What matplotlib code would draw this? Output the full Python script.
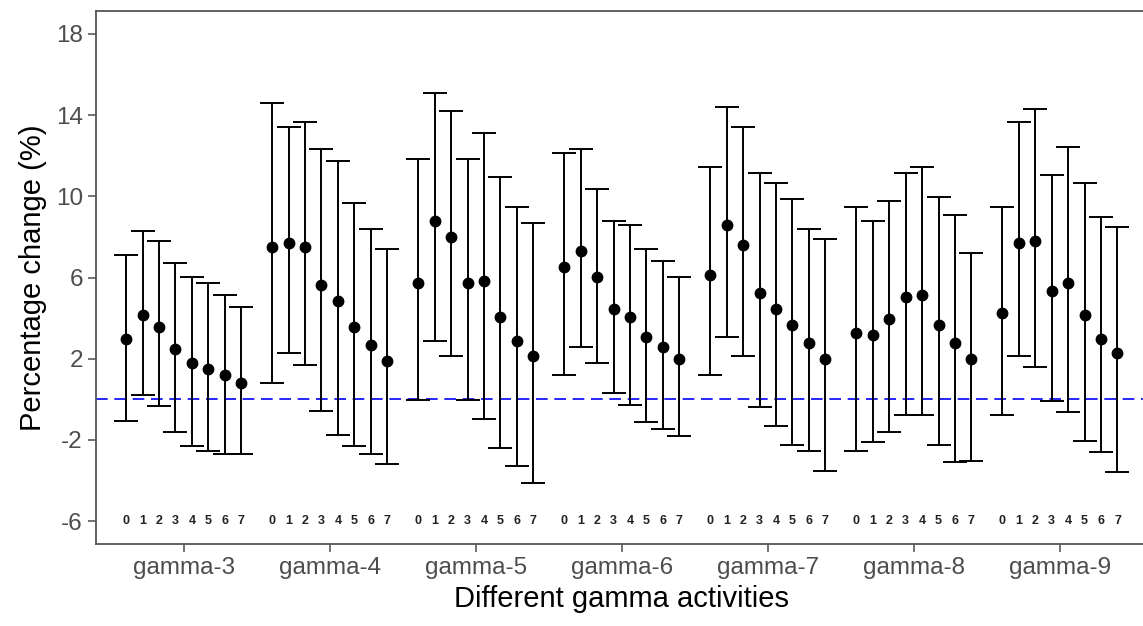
import matplotlib

matplotlib.use("Agg")
import matplotlib.pyplot as plt
import numpy as np

plt.rcParams["font.family"] = ["Liberation Sans", "DejaVu Sans"]
plt.rcParams["axes.unicode_minus"] = False

groups = ["gamma-3", "gamma-4", "gamma-5", "gamma-6", "gamma-7", "gamma-8", "gamma-9"]
lags = [0, 1, 2, 3, 4, 5, 6, 7]

# point estimates per group (lag 0..7)
estimate = [
    [2.98, 4.16, 3.56, 2.49, 1.79, 1.49, 1.21, 0.81],
    [7.49, 7.70, 7.49, 5.63, 4.82, 3.56, 2.68, 1.89],
    [5.74, 8.77, 7.98, 5.74, 5.84, 4.05, 2.88, 2.11],
    [6.53, 7.30, 6.04, 4.46, 4.05, 3.07, 2.60, 1.98],
    [6.12, 8.58, 7.60, 5.25, 4.46, 3.67, 2.79, 2.00],
    [3.28, 3.18, 3.96, 5.05, 5.14, 3.67, 2.79, 2.00],
    [4.26, 7.70, 7.79, 5.35, 5.74, 4.16, 2.98, 2.28],
]
lower = [
    [-1.05, 0.23, -0.35, -1.63, -2.32, -2.53, -2.72, -2.72],
    [0.82, 2.30, 1.70, -0.56, -1.74, -2.32, -2.72, -3.21],
    [-0.05, 2.88, 2.11, -0.05, -0.95, -2.42, -3.30, -4.11],
    [1.21, 2.60, 1.81, 0.33, -0.26, -1.14, -1.44, -1.82],
    [1.21, 3.09, 2.11, -0.37, -1.33, -2.23, -2.53, -3.51],
    [-2.53, -2.12, -1.63, -0.75, -0.75, -2.23, -3.11, -3.02],
    [-0.75, 2.11, 1.61, -0.07, -0.65, -2.04, -2.61, -3.60],
]
upper = [
    [7.10, 8.28, 7.79, 6.72, 6.04, 5.74, 5.14, 4.56],
    [14.60, 13.42, 13.68, 12.35, 11.72, 9.67, 8.40, 7.42],
    [11.84, 15.09, 14.19, 11.84, 13.12, 10.96, 9.47, 8.68],
    [12.14, 12.33, 10.37, 8.77, 8.58, 7.42, 6.81, 6.04],
    [11.46, 14.40, 13.42, 11.16, 10.67, 9.88, 8.40, 7.89],
    [9.47, 8.77, 9.75, 11.14, 11.46, 9.96, 9.07, 7.21],
    [9.47, 13.68, 14.30, 11.05, 12.44, 10.65, 9.00, 8.49],
]
y_ticks = [-6, -2, 2, 6, 10, 14, 18]

dodge = 0.9 / len(lags)

fig = plt.figure(figsize=(11.43, 6.26), dpi=100)
ax = fig.add_axes([0.084, 0.131, 0.920, 0.8514])

ax.axhline(0, color="#0000ff", lw=1.2, linestyle=(0, (7, 4)), zorder=1)

for gi, name in enumerate(groups):
    xs = gi + 1 + (np.array(lags) - 3.5) * dodge
    est = np.array(estimate[gi])
    lo = np.array(lower[gi])
    hi = np.array(upper[gi])
    ax.errorbar(
        xs, est, yerr=[est - lo, hi - est], fmt="o", color="black",
        ecolor="black", elinewidth=1.4, capsize=8.5, capthick=1.4,
        markersize=7.5, zorder=3,
    )
    for x, lag in zip(xs, lags):
        ax.text(x, -6, str(lag), ha="center", va="center", fontsize=9,
                fontweight="bold", color="#222222")

ax.set_xlim(0.4, 7.6)
ax.set_ylim(-7.13, 19.13)
ax.set_xticks(range(1, len(groups) + 1))
ax.set_xticklabels(groups)
ax.set_yticks(y_ticks)
ax.tick_params(axis="both", length=5.5, width=1.1, color="#4d4d4d",
               labelcolor="#4d4d4d", labelsize=17.5, pad=4)
for spine in ax.spines.values():
    spine.set_color("#555555")
    spine.set_linewidth(1.3)

ax.set_xlabel("Different gamma activities", fontsize=21, color="black", labelpad=4)
ax.set_ylabel("Percentage change (%)", fontsize=21, color="black", labelpad=6)

fig.savefig("out.png", dpi=100)
plt.close(fig)
